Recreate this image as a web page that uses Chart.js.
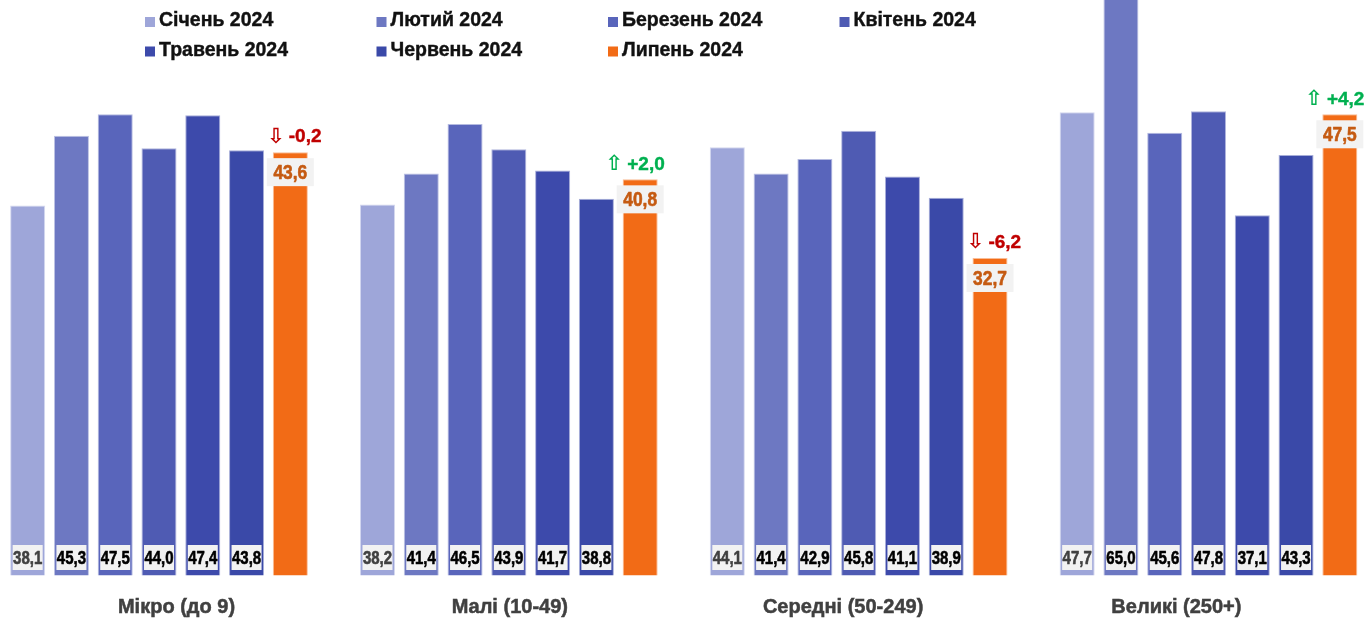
<!DOCTYPE html>
<html>
<head>
<meta charset="utf-8">
<script src="https://cdn.jsdelivr.net/npm/chart.js@4"></script>
<style>
  html, body { margin: 0; padding: 0; background: #ffffff; }
  #wrap { position: relative; width: 1370px; height: 619px; }
</style>
</head>
<body>
<div id="wrap"><canvas id="c"></canvas></div>
<script>
const categories = ['Мікро (до 9)', 'Малі (10-49)', 'Середні (50-249)', 'Великі (250+)'];
const seriesNames = ['Січень 2024', 'Лютий 2024', 'Березень 2024', 'Квітень 2024', 'Травень 2024', 'Червень 2024', 'Липень 2024'];
const jan = [38.1, 38.2, 44.1, 47.7];
const feb = [45.3, 41.4, 41.4, 65.0];
const mar = [47.5, 46.5, 42.9, 45.6];
const apr = [44.0, 43.9, 45.8, 47.8];
const may = [47.4, 41.7, 41.1, 37.1];
const jun = [43.8, 38.8, 38.9, 43.3];
const jul = [43.6, 40.8, 32.7, 47.5];
const seriesValues = [jan, feb, mar, apr, may, jun, jul];
const seriesColors = ['#9ea6d9', '#6d78c2', '#5965bb', '#4f5bb3', '#3d4aab', '#3a49a8', '#f26b16'];

const SANS = '"Liberation Sans", Arial, "DejaVu Sans", sans-serif';

function fmt(v) { return v.toFixed(1).replace('.', ','); }
function hexA(hex, a) {
  const n = parseInt(hex.slice(1), 16);
  return `rgba(${(n >> 16) & 255},${(n >> 8) & 255},${n & 255},${a})`;
}
function narrowText(ctx, txt, x, y, sx, stroke) {
  ctx.save();
  ctx.translate(x, y);
  ctx.scale(sx, 1);
  if (stroke) {
    ctx.lineWidth = stroke;
    ctx.strokeStyle = ctx.fillStyle;
    ctx.lineJoin = 'round';
    ctx.strokeText(txt, 0, 0);
  }
  ctx.fillText(txt, 0, 0);
  ctx.restore();
}

const datasets = seriesNames.map((name, i) => ({
  label: name,
  data: seriesValues[i],
  backgroundColor: seriesColors[i],
  borderColor: hexA(seriesColors[i], 0.45),
  borderWidth: 1,
  borderSkipped: 'start',
  clip: false,
  categoryPercentage: 0.876,
  barPercentage: 0.8
}));

const legendPlugin = {
  id: 'gridLegend',
  afterDraw(chart) {
    const ctx = chart.ctx;
    ctx.save();
    ctx.font = 'bold 19.5px ' + SANS;
    ctx.textBaseline = 'middle';
    ctx.textAlign = 'left';
    chart.data.datasets.forEach((ds, i) => {
      const col = i % 4, row = Math.floor(i / 4);
      const x = 145 + col * 231.5;
      const y = 21 + row * 29.5;
      ctx.fillStyle = ds.backgroundColor;
      ctx.fillRect(x, y - 4, 10, 10);
      ctx.fillStyle = '#111111';
      ctx.strokeStyle = '#111111';
      ctx.lineWidth = 0.4;
      ctx.strokeText(ds.label, x + 14, y);
      ctx.fillText(ds.label, x + 14, y);
    });
    ctx.restore();
  }
};

const labelPlugin = {
  id: 'barLabels',
  afterDatasetsDraw(chart) {
    const ctx = chart.ctx;
    const n = chart.data.datasets.length;
    ctx.save();
    ctx.textAlign = 'center';
    ctx.textBaseline = 'middle';
    chart.data.datasets.forEach((ds, i) => {
      const meta = chart.getDatasetMeta(i);
      meta.data.forEach((bar, j) => {
        const v = ds.data[j];
        const p = bar.getProps(['x', 'y', 'base', 'width'], true);
        if (i < n - 1) {
          const bw = p.width - 5;
          const bh = 25;
          const by = p.base - 5.5 - bh;
          ctx.fillStyle = '#f2f2f2';
          ctx.fillRect(p.x - bw / 2, by, bw, bh);
          ctx.fillStyle = i === 0 ? '#404040' : '#000000';
          ctx.font = 'bold 18.5px ' + SANS;
          narrowText(ctx, fmt(v), p.x, by + bh / 2 + 1, 0.81, 0.6);
        } else {
          const bw = 47, bh = 28;
          const by = p.y + 6;
          ctx.fillStyle = '#f2f2f2';
          ctx.fillRect(p.x - bw / 2, by, bw, bh);
          ctx.fillStyle = '#c55a11';
          ctx.font = 'bold 20px ' + SANS;
          narrowText(ctx, fmt(v), p.x, by + bh / 2 + 1, 0.87, 0.6);
          const prev = chart.data.datasets[i - 1].data[j];
          const d = Math.round((v - prev) * 10) / 10;
          const up = d >= 0;
          ctx.fillStyle = up ? '#00b050' : '#c00000';
          const cx = p.x + (up ? -5 : 4);
          const cy = p.y - 15;
          ctx.font = 'bold 19px ' + SANS;
          const numTxt = (up ? '+' : '') + fmt(d);
          const numW = ctx.measureText(numTxt).width;
          ctx.font = 'bold 21px "DejaVu Sans", sans-serif';
          const arrow = up ? '⇧' : '⇩';
          const arW = ctx.measureText(arrow).width;
          const gap = 4;
          const total = arW + gap + numW;
          const left = cx - total / 2;
          ctx.textAlign = 'left';
          ctx.fillText(arrow, left, cy);
          ctx.font = 'bold 19px ' + SANS;
          ctx.strokeStyle = ctx.fillStyle;
          ctx.lineWidth = 0.4;
          ctx.strokeText(numTxt, left + arW + gap, cy);
          ctx.fillText(numTxt, left + arW + gap, cy);
          ctx.textAlign = 'center';
        }
      });
    });
    ctx.restore();
  }
};

new Chart(document.getElementById('c'), {
  type: 'bar',
  data: { labels: categories, datasets },
  options: {
    responsive: true,
    maintainAspectRatio: false,
    animation: false,
    layout: { padding: { left: 159, right: 161.5, top: 0, bottom: 0 } },
    plugins: { legend: { display: false }, tooltip: { enabled: false } },
    scales: {
      x: {
        type: 'category',
        offset: false,
        display: false
      },
      x2: {
        type: 'linear',
        position: 'bottom',
        offset: false,
        min: -0.0525,
        max: 3.0963,
        grid: { display: false, drawTicks: false, offset: false },
        border: { display: false },
        afterBuildTicks(scale) { scale.ticks = categories.map((c, k) => ({ value: k })); },
        afterFit(scale) { scale.height = 43.5; },
        ticks: {
          autoSkip: false,
          maxRotation: 0,
          padding: 20,
          color: '#404040',
          textStrokeColor: '#404040',
          textStrokeWidth: 0.5,
          font: { family: SANS, size: 20, weight: 'bold' },
          callback: (v) => categories[v]
        }
      },
      y: {
        display: false,
        min: 0,
        max: 59.27
      }
    }
  },
  plugins: [legendPlugin, labelPlugin]
});
</script>
</body>
</html>
